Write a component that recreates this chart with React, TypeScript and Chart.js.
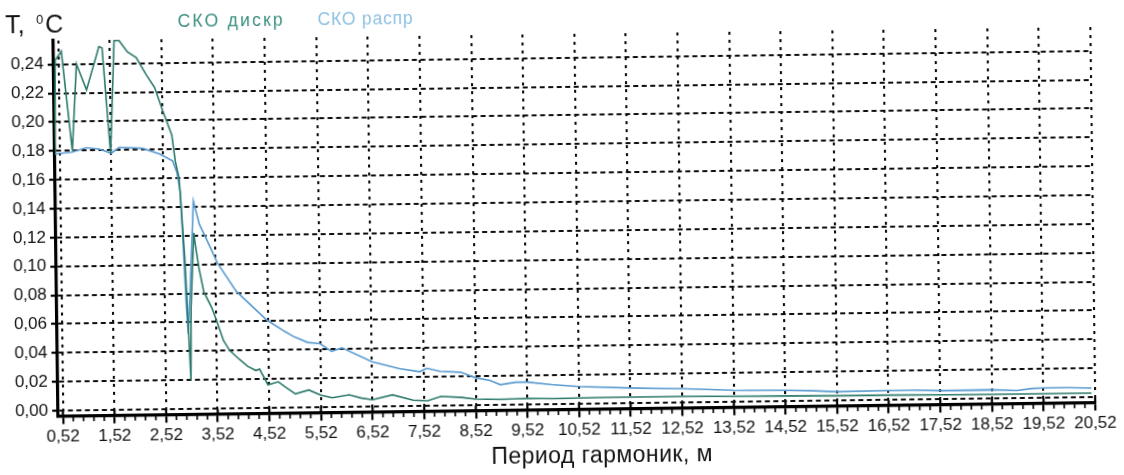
import React, { useEffect, useRef } from 'react';
import { Chart, registerables } from 'chart.js';

Chart.register(...registerables);

// ---- data ----
const xTicks = [0.52, 1.52, 2.52, 3.52, 4.52, 5.52, 6.52, 7.52, 8.52, 9.52, 10.52, 11.52, 12.52, 13.52, 14.52, 15.52, 16.52, 17.52, 18.52, 19.52, 20.52];
const yTicks = [0, 0.02, 0.04, 0.06, 0.08, 0.1, 0.12, 0.14, 0.16, 0.18, 0.2, 0.22, 0.24];

const seriesNames = ['СКО дискр', 'СКО распр'];
const xTitle = 'Период гармоник, м';
const yTitleParts = ['T,', '0', 'C'];

const diskrX = [0.43, 0.46, 0.58, 0.77, 0.87, 1.06, 1.31, 1.37, 1.51, 1.605, 1.70, 1.86, 2.03, 2.22, 2.38, 2.53, 2.70, 2.76, 2.83, 2.85, 2.92, 2.97, 3.01, 3.03, 3.10, 3.12, 3.19, 3.28, 3.43, 3.52, 3.65, 3.77, 3.95, 4.11, 4.27, 4.34, 4.50, 4.70, 4.85, 5.03, 5.29, 5.52, 5.74, 6.07, 6.30, 6.52, 6.91, 7.31, 7.59, 7.85, 8.25, 8.52, 9.0, 9.52, 10.0, 10.52, 11.0, 11.52, 12.52, 13.52, 14.52, 15.52, 16.52, 17.52, 18.52, 19.52, 20.45];
const diskrY = [0.178, 0.243, 0.249, 0.18, 0.24, 0.222, 0.252, 0.251, 0.178, 0.256, 0.256, 0.248, 0.244, 0.232, 0.223, 0.207, 0.19, 0.172, 0.16, 0.148, 0.105, 0.059, 0.02, 0.07, 0.122, 0.116, 0.098, 0.081, 0.07, 0.061, 0.047, 0.04, 0.034, 0.029, 0.026, 0.027, 0.016, 0.018, 0.014, 0.0095, 0.012, 0.0083, 0.0064, 0.0083, 0.006, 0.0047, 0.0079, 0.004, 0.0035, 0.0064, 0.0055, 0.0042, 0.0038, 0.0042, 0.0038, 0.004, 0.0042, 0.0042, 0.0042, 0.0038, 0.0036, 0.0032, 0.0032, 0.003, 0.0028, 0.0028, 0.0028];

const rasprX = [0.43, 0.76, 1.04, 1.29, 1.52, 1.68, 2.13, 2.46, 2.71, 2.79, 2.85, 2.88, 2.94, 2.97, 3.02, 3.10, 3.21, 3.39, 3.55, 3.91, 4.17, 4.49, 4.83, 5.02, 5.28, 5.52, 5.74, 5.94, 6.52, 7.05, 7.44, 7.58, 7.84, 8.23, 8.52, 8.8, 9.0, 9.3, 9.52, 10.0, 10.52, 11.52, 12.52, 13.2, 13.52, 14.52, 15.0, 15.52, 16.52, 17.0, 17.52, 18.52, 19.0, 19.3, 19.52, 20.0, 20.45];
const rasprY = [0.178, 0.179, 0.182, 0.181, 0.178, 0.182, 0.181, 0.177, 0.172, 0.164, 0.15, 0.125, 0.07, 0.052, 0.085, 0.144, 0.128, 0.114, 0.101, 0.081, 0.072, 0.061, 0.053, 0.049, 0.045, 0.044, 0.0385, 0.041, 0.031, 0.026, 0.0237, 0.026, 0.0237, 0.023, 0.019, 0.017, 0.014, 0.0155, 0.0155, 0.0135, 0.012, 0.0105, 0.0095, 0.0085, 0.008, 0.0075, 0.007, 0.006, 0.0064, 0.0064, 0.0058, 0.006, 0.0052, 0.0065, 0.0068, 0.0068, 0.0062];

const FONT = '"Liberation Sans", Arial, sans-serif';
const fmt = (v: number) => Number(v).toFixed(2).replace('.', ',');

export default function App() {
  const ref = useRef<HTMLCanvasElement>(null);

  useEffect(() => {
    const canvas = ref.current;
    if (!canvas) return;

    const drawFit = (ctx: any, text: string, cx: number, cy: number, w: number, font: string, color: string) => {
      ctx.font = font;
      ctx.fillStyle = color;
      ctx.textAlign = 'left';
      ctx.textBaseline = 'middle';
      ctx.letterSpacing = '0px';
      const m = ctx.measureText(text).width;
      const ls = (w - m) / Math.max(1, text.length - 1);
      ctx.letterSpacing = ls + 'px';
      ctx.fillText(text, cx - w / 2, cy);
      ctx.letterSpacing = '0px';
    };

    const decor = {
      id: 'decor',
      afterDraw(chart: any) {
        const ctx = chart.ctx;
        const xs = chart.scales.x;
        const area = chart.chartArea;
        ctx.save();
        ctx.strokeStyle = '#000';
        // minor ticks on x axis
        ctx.lineWidth = 1.6;
        for (let i = 0; i < xTicks.length; i++) {
          for (let k = 1; k < 5; k++) {
            const v = xTicks[i] + k * 0.2;
            if (v > xs.max) break;
            const px = xs.getPixelForValue(v);
            ctx.beginPath();
            ctx.moveTo(px, area.bottom + 1);
            ctx.lineTo(px, area.bottom + 5.5);
            ctx.stroke();
          }
        }
        // major ticks crossing axis
        ctx.lineWidth = 2.2;
        for (const v of xTicks) {
          const px = xs.getPixelForValue(v);
          ctx.beginPath();
          ctx.moveTo(px, area.bottom - 5);
          ctx.lineTo(px, area.bottom);
          ctx.stroke();
        }
        // y title
        ctx.fillStyle = '#111';
        ctx.textBaseline = 'middle';
        ctx.textAlign = 'left';
        ctx.font = '25px ' + FONT;
        ctx.fillText(yTitleParts[0], 8, 19);
        ctx.font = '13px ' + FONT;
        ctx.fillText(yTitleParts[1], 39, 13);
        ctx.font = '25px ' + FONT;
        ctx.fillText(yTitleParts[2], 48, 19);
        // legend texts
        drawFit(ctx, seriesNames[0], 233, 17, 105, '17.5px ' + FONT, '#3a8e7f');
        drawFit(ctx, seriesNames[1], 368, 17, 95, '17.5px ' + FONT, '#8cc0e2');
        // x title
        drawFit(ctx, xTitle, 599, 457, 221, '23px ' + FONT, '#111');
        ctx.restore();
      },
    };

    const chart = new Chart(canvas, {
      type: 'line',
      data: {
        datasets: [
          {
            label: seriesNames[0],
            data: diskrX.map((x, i) => ({ x, y: diskrY[i] })),
            borderColor: '#2c7a6b',
            borderWidth: 1.6,
            pointRadius: 0,
            tension: 0,
            fill: false,
          },
          {
            label: seriesNames[1],
            data: rasprX.map((x, i) => ({ x, y: rasprY[i] })),
            borderColor: '#5a9bd0',
            borderWidth: 1.6,
            pointRadius: 0,
            tension: 0,
            fill: false,
          },
        ],
      },
      options: {
        animation: false,
        responsive: false,
        maintainAspectRatio: false,
        layout: { padding: { left: 0, top: 34, right: 31, bottom: 0 } },
        plugins: { legend: { display: false }, tooltip: { enabled: false }, title: { display: false } },
        scales: {
          x: {
            type: 'linear',
            min: 0.43,
            max: 20.52,
            afterBuildTicks: (s: any) => {
              s.ticks = xTicks.map((v) => ({ value: v }));
            },
            afterFit: (s: any) => {
              s.height = 65.5;
            },
            ticks: {
              callback: (v: any) => fmt(v),
              autoSkip: false,
              maxRotation: 0,
              minRotation: 0,
              padding: 3,
              color: '#111',
              font: { family: FONT, size: 17 },
            },
            grid: { color: '#0d0d0d', lineWidth: 2.1, tickLength: 8, tickColor: '#000', tickWidth: 2.2 },
            border: { display: true, color: '#000', width: 3.2, dash: [3, 5] },
          },
          y: {
            type: 'linear',
            min: -0.0038,
            max: 0.2565,
            afterBuildTicks: (s: any) => {
              s.ticks = yTicks.map((v) => ({ value: v }));
            },
            afterFit: (s: any) => {
              s.width = 56;
            },
            ticks: {
              callback: (v: any) => fmt(v),
              autoSkip: false,
              padding: 4,
              color: '#111',
              font: { family: FONT, size: 17 },
            },
            grid: { color: '#0d0d0d', lineWidth: 2.1, tickLength: 6, tickColor: '#000', tickWidth: 2.2 },
            border: { display: true, color: '#000', width: 3.2, dash: [5, 3.5] },
          },
        },
      } as any,
      plugins: [decor],
    });

    return () => {
      chart.destroy();
    };
  }, []);

  return (
    <div
      style={{
        position: 'fixed',
        left: 0,
        top: 0,
        width: 1124,
        height: 475,
        background: '#fff',
        transform: 'rotate(-0.75deg)',
        transformOrigin: '562px 237px',
      }}
    >
      <canvas ref={ref} width={1124} height={475} style={{ display: 'block' }} />
    </div>
  );
}
